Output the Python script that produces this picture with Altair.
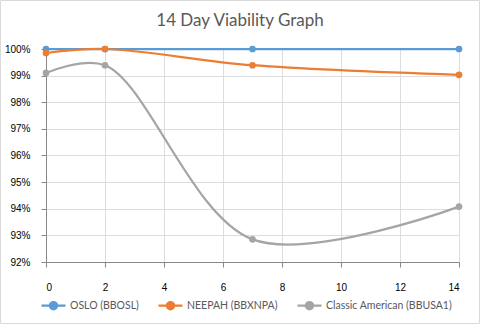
import altair as alt
import pandas as pd

series_names = ["OSLO (BBOSL)", "NEEPAH (BBXNPA)", "Classic American (BBUSA1)"]
series_colors = ["#5B9BD5", "#ED7D31", "#A5A5A5"]
days = [0, 2, 7, 14]
oslo = [1.0, 1.0, 1.0, 1.0]
neepah = [0.9985, 1.0, 0.9939, 0.9903]
classic = [0.9910, 0.9939, 0.9285, 0.9408]

rows = []
for name, vals in zip(series_names, [oslo, neepah, classic]):
    for d, v in zip(days, vals):
        rows.append({"Day": d, "Viability": v, "Series": name})
df = pd.DataFrame(rows)

FONT = "Lato"
GREY = "#595959"

color = alt.Color(
    "Series:N",
    scale=alt.Scale(domain=series_names, range=series_colors),
    sort=series_names,
    legend=alt.Legend(
        title=None,
        orient="none",
        direction="horizontal",
        legendX=-6,
        legendY=243,
        symbolType="M-1,0H1M0.3,0A0.3,0.3 0 1,1 -0.3,0A0.3,0.3 0 1,1 0.3,0Z",
        symbolSize=576,
        symbolStrokeWidth=2.25,
        labelFont=FONT,
        labelFontSize=10.5,
        labelColor=GREY,
        labelOffset=3,
        columnPadding=15,
    ),
)

x = alt.X("Day:Q", scale=alt.Scale(domain=[0, 14], nice=False),
          axis=alt.Axis(values=list(range(0, 15, 2)), title=None, labelPadding=15))
y = alt.Y("Viability:Q", scale=alt.Scale(domain=[0.92, 1.0], nice=False, zero=False),
          axis=alt.Axis(values=[0.92 + i * 0.01 for i in range(9)], format=".0%", title=None,
                        labelPadding=11))

lines = alt.Chart(df).mark_line(
    interpolate="catmull-rom", strokeWidth=2.25,
    point=alt.OverlayMarkDef(filled=True, size=45),
).encode(x=x, y=y, color=color, order=alt.Order("Day:Q"))

frame = alt.Chart(pd.DataFrame({"a": [0]})).mark_rect(
    fill=None, stroke="#d9d9d9", strokeWidth=1
).encode(x=alt.value(-45.5), x2=alt.value(433.5), y=alt.value(-48.5), y2=alt.value(274.5))

chart = alt.layer(frame, lines).properties(
    width=413,
    height=213,
    autosize=alt.AutoSizeParams(type="none"),
    padding={"left": 46, "top": 49, "right": 21, "bottom": 62},
    title=alt.Title("14 Day Viability Graph", font=FONT, fontSize=17,
                    fontWeight="normal", color=GREY, anchor="middle", dx=-12.5,
                    offset=0, dy=30),
).configure_view(stroke=None).configure_axis(
    labelFont=FONT, labelFontSize=12, labelColor=GREY,
    grid=True, gridColor="#d9d9d9", gridWidth=1,
    domainColor="#d9d9d9", ticks=False,
).configure(background="white")

chart.save("out.html", embed_options={"renderer": "svg", "actions": False})
